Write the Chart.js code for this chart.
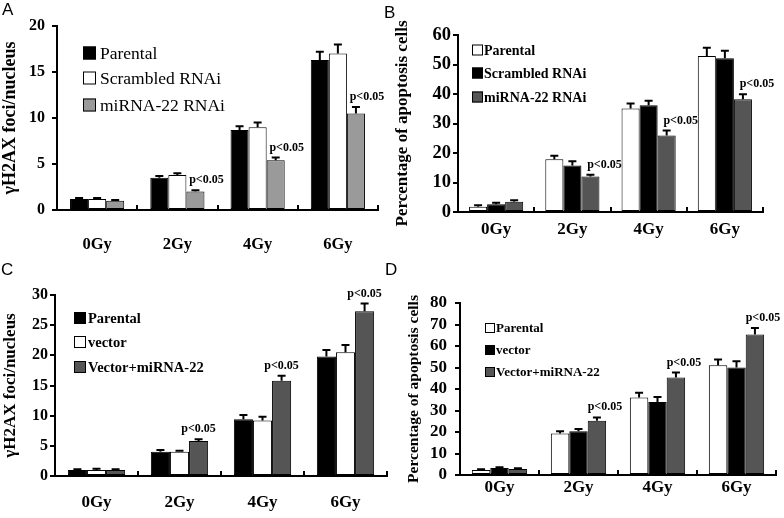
<!DOCTYPE html>
<html>
<head>
<meta charset="utf-8">
<script src="https://cdn.jsdelivr.net/npm/chart.js@4.4.1/dist/chart.umd.min.js"></script>
<style>
  body { margin: 0; background: #fff; }
  #wrap { position: relative; width: 784px; height: 518px; }
  canvas { position: absolute; }
  .tag { position: absolute; font: 17px "Liberation Sans", Arial, sans-serif; color: #000; }
</style>
</head>
<body>
<div id="wrap">
  <canvas id="cA" width="392" height="260" style="left:0;top:0"></canvas>
  <canvas id="cB" width="392" height="260" style="left:392px;top:0"></canvas>
  <canvas id="cC" width="392" height="258" style="left:0;top:260px"></canvas>
  <canvas id="cD" width="392" height="258" style="left:392px;top:260px"></canvas>
  <div class="tag" style="left:2px;top:0">A</div>
  <div class="tag" style="left:384px;top:3px">B</div>
  <div class="tag" style="left:1px;top:260px">C</div>
  <div class="tag" style="left:385px;top:260px">D</div>
</div>
<script>
const doses = ['0Gy', '2Gy', '4Gy', '6Gy'];
const pText = 'p<0.05';

// A: gamma-H2AX foci, RNAi
const aParental = [1.2, 3.5, 8.7, 16.3];
const aParentalErr = [0.1, 0.2, 0.4, 0.9];
const aScrambled = [1.2, 3.8, 9.0, 17.0];
const aScrambledErr = [0.1, 0.2, 0.5, 1.0];
const aMir = [1.0, 2.0, 5.4, 10.5];
const aMirErr = [0.1, 0.15, 0.3, 0.7];

// B: apoptosis, RNAi
const bParental = [1.8, 17.9, 35.1, 52.9];
const bParentalErr = [0.5, 1.2, 1.7, 2.8];
const bScrambled = [2.6, 15.8, 36.2, 52.1];
const bScrambledErr = [0.5, 1.4, 1.5, 2.6];
const bMir = [3.5, 12.0, 25.9, 38.2];
const bMirErr = [0.5, 0.6, 1.7, 1.7];

// C: gamma-H2AX foci, overexpression
const cParental = [1.0, 4.0, 9.4, 19.8];
const cParentalErr = [0.1, 0.3, 0.7, 1.1];
const cVector = [1.0, 4.0, 9.2, 20.5];
const cVectorErr = [0.2, 0.2, 0.6, 1.2];
const cMir = [1.0, 5.8, 15.8, 27.3];
const cMirErr = [0.1, 0.3, 0.8, 1.3];

// D: apoptosis, overexpression
const dParental = [2.3, 19.3, 36.1, 51.1];
const dParentalErr = [0.4, 1.1, 2.1, 2.6];
const dVector = [3.2, 20.4, 34.0, 50.0];
const dVectorErr = [0.4, 1.0, 2.3, 2.9];
const dMir = [2.8, 25.2, 45.4, 65.3];
const dMirErr = [0.3, 1.6, 2.3, 3.1];

const serif = "'Liberation Serif', 'Times New Roman', serif";

// error bars, p labels and the legend box
function marks(p) {
  return {
    id: 'marks',
    afterDatasetsDraw(chart) {
      const ctx = chart.ctx;
      const y = chart.scales.y;
      ctx.save();
      ctx.strokeStyle = '#000';
      ctx.lineWidth = 2;
      chart.data.datasets.forEach((ds, i) => {
        chart.getDatasetMeta(i).data.forEach((bar, j) => {
          const top = y.getPixelForValue(ds.data[j] + p.series[i].err[j]);
          ctx.beginPath();
          ctx.moveTo(bar.x, bar.y);
          ctx.lineTo(bar.x, top);
          ctx.moveTo(bar.x - 4, top);
          ctx.lineTo(bar.x + 4, top);
          ctx.stroke();
        });
      });

      // significance labels above the third series
      const last = p.series.length - 1;
      const bars = chart.getDatasetMeta(last).data;
      ctx.fillStyle = '#000';
      ctx.font = 'bold 12px ' + serif;
      ctx.textAlign = 'center';
      ctx.textBaseline = 'bottom';
      for (let j = 1; j < bars.length; j++) {
        const d = chart.data.datasets[last].data[j] + p.series[last].err[j];
        ctx.fillText(pText, bars[j].x + p.pdx, y.getPixelForValue(d) - 4);
      }

      // legend
      ctx.font = p.legFont;
      ctx.textAlign = 'left';
      ctx.textBaseline = 'middle';
      ctx.lineWidth = 1;
      p.series.forEach((s, i) => {
        const ry = p.legRows[i];
        ctx.fillStyle = s.color;
        ctx.fillRect(p.legX, ry - p.legSize / 2, p.legSize, p.legSize);
        ctx.strokeRect(p.legX + 0.5, ry - p.legSize / 2 + 0.5, p.legSize - 1, p.legSize - 1);
        ctx.fillStyle = '#000';
        ctx.fillText(s.label, p.legTextX, ry + 1);
      });
      ctx.restore();
    }
  };
}

function panel(id, p) {
  new Chart(document.getElementById(id), {
    type: 'bar',
    data: {
      labels: doses,
      datasets: p.series.map(s => ({
        label: s.label,
        data: s.data,
        backgroundColor: s.color,
        borderColor: '#000',
        borderWidth: 1,
        borderSkipped: false,
        categoryPercentage: p.catPct,
        barPercentage: 1
      }))
    },
    options: {
      responsive: false,
      animation: false,
      events: [],
      layout: { padding: { left: 0, top: p.top, right: p.right, bottom: 0 } },
      plugins: { legend: { display: false }, tooltip: { enabled: false } },
      scales: {
        x: {
          grid: { offset: true, drawOnChartArea: false, tickLength: -5, color: '#000', lineWidth: 2 },
          border: { display: true, color: '#000', width: 2 },
          ticks: { color: '#000', padding: p.xPad, font: { family: serif, size: p.xFont, weight: 'bold' } },
          afterFit: s => { s.height = p.xH; }
        },
        y: {
          min: 0,
          max: p.max,
          grid: { drawOnChartArea: false, tickLength: 5, color: '#000', lineWidth: 2 },
          border: { display: true, color: '#000', width: 2 },
          ticks: {
            stepSize: p.step, autoSkip: false, color: '#000', padding: p.yPad,
            font: { family: serif, size: p.yFont, weight: 'bold' }
          },
          title: {
            display: true,
            text: p.title,
            color: '#000',
            padding: { top: p.titlePad, bottom: 0 },
            font: { family: serif, size: p.titleFont, weight: 'bold' }
          },
          afterFit: s => { s.width = p.yW; }
        }
      }
    },
    plugins: [marks(p)]
  });
}

panel('cA', {
  series: [
    { label: 'Parental', data: aParental, err: aParentalErr, color: '#000000' },
    { label: 'Scrambled RNAi', data: aScrambled, err: aScrambledErr, color: '#ffffff' },
    { label: 'miRNA-22 RNAi', data: aMir, err: aMirErr, color: '#9a9a9a' }
  ],
  title: 'γH2AX foci/nucleus', max: 20, step: 5,
  top: 26, right: 14, yW: 57, xH: 50, catPct: 0.675,
  xPad: 30, xFont: 16.5, yPad: 7, yFont: 16, titleFont: 18, titlePad: 0,
  pdx: 11, legX: 83, legSize: 13, legTextX: 100, legRows: [53, 78, 105],
  legFont: '17.5px ' + serif
});

panel('cB', {
  series: [
    { label: 'Parental', data: bParental, err: bParentalErr, color: '#ffffff' },
    { label: 'Scrambled RNAi', data: bScrambled, err: bScrambledErr, color: '#000000' },
    { label: 'miRNA-22 RNAi', data: bMir, err: bMirErr, color: '#555555' }
  ],
  title: 'Percentage of apoptosis cells', max: 60, step: 10,
  top: 35, right: 21, yW: 66, xH: 48, catPct: 0.71,
  xPad: 12, xFont: 17, yPad: 2, yFont: 18.5, titleFont: 17, titlePad: 0,
  pdx: 14, legX: 80, legSize: 11, legTextX: 92, legRows: [50, 73, 97],
  legFont: 'bold 14px ' + serif
});

panel('cC', {
  series: [
    { label: 'Parental', data: cParental, err: cParentalErr, color: '#000000' },
    { label: 'vector', data: cVector, err: cVectorErr, color: '#ffffff' },
    { label: 'Vector+miRNA-22', data: cMir, err: cMirErr, color: '#555555' }
  ],
  title: 'γH2AX foci/nucleus', max: 30, step: 5,
  top: 35, right: 5, yW: 55, xH: 42, catPct: 0.69,
  xPad: 21, xFont: 17, yPad: 2, yFont: 16, titleFont: 17, titlePad: 0,
  pdx: 0, legX: 74, legSize: 12, legTextX: 88, legRows: [58, 82, 107],
  legFont: 'bold 14.5px ' + serif
});

panel('cD', {
  series: [
    { label: 'Parental', data: dParental, err: dParentalErr, color: '#ffffff' },
    { label: 'vector', data: dVector, err: dVectorErr, color: '#000000' },
    { label: 'Vector+miRNA-22', data: dMir, err: dMirErr, color: '#555555' }
  ],
  title: 'Percentage of apoptosis cells', max: 80, step: 10,
  top: 43, right: 8, yW: 68, xH: 43, catPct: 0.70,
  xPad: 7, xFont: 17, yPad: 8, yFont: 17, titleFont: 15.5, titlePad: 13,
  pdx: 8, legX: 93, legSize: 10, legTextX: 104, legRows: [68, 90, 112],
  legFont: 'bold 13px ' + serif
});
</script>
</body>
</html>
